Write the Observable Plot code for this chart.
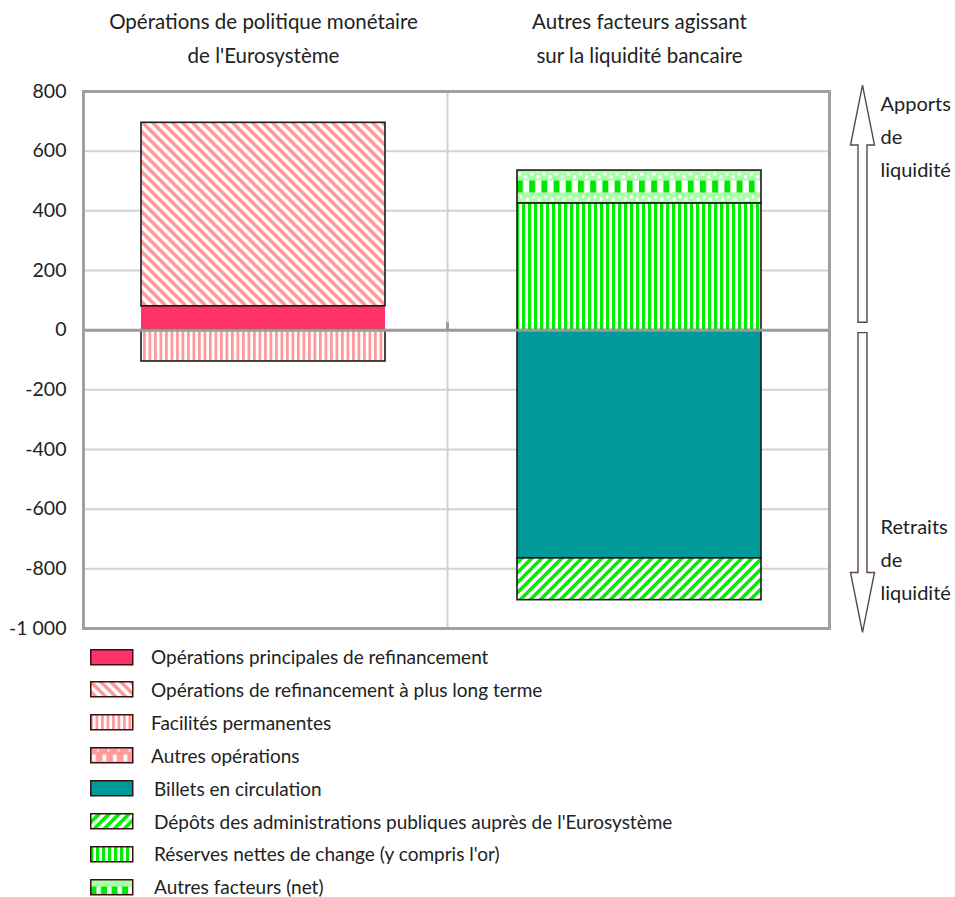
<!DOCTYPE html>
<html><head><meta charset="utf-8">
<script src="https://cdn.jsdelivr.net/npm/d3@7"></script>
<script src="https://cdn.jsdelivr.net/npm/@observablehq/plot@0.6"></script>
<style>
body{margin:0;background:#fff;font-family:Lato,"Open Sans",sans-serif;color:#222}
#chart{position:relative;width:955px;height:897px;overflow:hidden}
#legend{position:absolute;left:0;top:0;width:955px}
.row{position:absolute;left:0;height:22px;line-height:22px;display:flex;align-items:center;font-size:19px;white-space:nowrap}
.row svg{margin-left:90px}
</style></head>
<body>
<svg width="0" height="0" style="position:absolute">
<defs>
<pattern id="p-ltro" patternUnits="userSpaceOnUse" width="10" height="10">
<rect width="10" height="10" fill="#fff"/>
<path d="M-5,5 L5,15 M0,0 L10,10 M5,-5 L15,5" stroke="#ff9a9a" stroke-width="3.6"/>
</pattern>
<pattern id="p-fac" patternUnits="userSpaceOnUse" width="5.5" height="10">
<rect width="5.5" height="10" fill="#fff"/>
<rect width="2.8" height="10" fill="#ff9a9a"/>
</pattern>
<pattern id="p-autop" patternUnits="objectBoundingBox" patternContentUnits="objectBoundingBox" width="0.25" height="1">
<rect width="0.25" height="1" fill="#ff9a9a"/>
<rect x="0.03" y="0.45" width="0.09" height="0.45" fill="#fff"/>
<rect x="0.15" y="0.1" width="0.04" height="0.15" fill="#fff"/>
</pattern>
<pattern id="p-dep" patternUnits="userSpaceOnUse" width="10" height="10">
<rect width="10" height="10" fill="#fff"/>
<path d="M-5,5 L5,-5 M0,10 L10,0 M5,15 L15,5" stroke="#00f000" stroke-width="3.6"/>
</pattern>
<pattern id="p-res" patternUnits="userSpaceOnUse" width="6" height="10">
<rect width="6" height="10" fill="#fff"/>
<rect width="3.2" height="10" fill="#00ee00"/>
</pattern>
<pattern id="p-autf" patternUnits="objectBoundingBox" patternContentUnits="objectBoundingBox" width="0.05" height="1">
<rect width="0.05" height="1" fill="#a8ffa8"/>
<rect x="0.005" y="0.08" width="0.012" height="0.1" fill="#fff"/>
<rect x="0.03" y="0.16" width="0.012" height="0.1" fill="#fff"/>
<rect x="0" y="0.32" width="0.025" height="0.36" fill="#00e600"/>
<rect x="0.025" y="0.32" width="0.025" height="0.36" fill="#fff"/>
<rect x="0.012" y="0.76" width="0.012" height="0.1" fill="#fff"/>
<rect x="0.037" y="0.84" width="0.012" height="0.1" fill="#fff"/>
</pattern>
<pattern id="p-autf-leg" patternUnits="objectBoundingBox" patternContentUnits="objectBoundingBox" width="0.25" height="1">
<rect width="0.25" height="1" fill="#a8ffa8"/>
<rect x="0" y="0.45" width="0.14" height="0.55" fill="#00e600"/>
<rect x="0.14" y="0.5" width="0.08" height="0.4" fill="#fff"/>
</pattern>
</defs>
</svg>
<div id="chart"><div id="legend"></div></div>
<script>
// ---- data ----
const categories = ["Opérations de politique monétaire de l'Eurosystème", "Autres facteurs agissant sur la liquidité bancaire"];
const headers = ["Opérations de politique monétaire\nde l'Eurosystème", "Autres facteurs agissant\nsur la liquidité bancaire"];
const seriesNames = [
  "Opérations principales de refinancement",
  "Opérations de refinancement à plus long terme",
  "Facilités permanentes",
  "Autres opérations",
  "Billets en circulation",
  "Dépôts des administrations publiques auprès de l'Eurosystème",
  "Réserves nettes de change (y compris l'or)",
  "Autres facteurs (net)"
];
const seriesGroup = [0, 0, 0, 0, 1, 1, 1, 1];
const seriesValues = [80, 615, -105, 0, -765, -140, 425, 110];
const yTicks = [-1000, -800, -600, -400, -200, 0, 200, 400, 600, 800];
const sideLabels = ["Apports\nde\nliquidité", "Retraits\nde\nliquidité"];

// ---- styles ----
const seriesFills = ["#ff3366", "url(#p-ltro)", "url(#p-fac)", "url(#p-autop)", "#009999", "url(#p-dep)", "url(#p-res)", "url(#p-autf)"];
const legendFills = ["#ff3366", "url(#p-ltro)", "url(#p-fac)", "url(#p-autop)", "#009999", "url(#p-dep)", "url(#p-res)", "url(#p-autf-leg)"];

const table = seriesNames.map((s, i) => ({series: s, cat: categories[seriesGroup[i]], value: seriesValues[i]}));
const fmt = d => (d < 0 ? "-" : "") + String(Math.abs(d)).replace(/\B(?=(\d{3})+(?!\d))/g, " ");

const W = 955, H = 640;
const svg = Plot.plot({
  width: W, height: H,
  marginTop: 91, marginLeft: 83, marginRight: 126, marginBottom: 12,
  style: {fontFamily: "Lato, 'Open Sans', sans-serif", fontSize: "17px", color: "#222", background: "#fff"},
  x: {domain: categories, paddingInner: 0.351, paddingOuter: 0.166, align: 0.46, axis: null},
  y: {domain: [-1000, 800], axis: null},
  color: {domain: seriesNames, range: seriesFills},
  marks: [
    Plot.ruleY(yTicks, {stroke: "#d2d2d2", strokeWidth: 2}),
    Plot.ruleX([categories[1]], {stroke: "#d2d2d2", strokeWidth: 2, dx: -192}),
    Plot.barY(table, {x: "cat", y: "value", fill: "series", stroke: "#1a1a1a", strokeWidth: 1.6,
      strokeOpacity: d => d.series === seriesNames[0] ? 0 : 1}),
    Plot.ruleY([0], {stroke: "#9a9a9a", strokeWidth: 3}),
    Plot.ruleX([categories[1]], {y1: 0, y2: 25, stroke: "#9a9a9a", strokeWidth: 3, dx: -192}),
    Plot.frame({stroke: "#a0a0a0", strokeWidth: 3}),
    Plot.axisY(yTicks, {label: null, tickSize: 0, tickPadding: 17, tickFormat: fmt, fontSize: 19.5, fill: "#222"}),
    Plot.text(categories, {x: d => d, text: (d, i) => headers[i], frameAnchor: "top", lineAnchor: "middle", dy: -56, lineHeight: 1.65, fontSize: 20.5, fill: "#222"}),
    Plot.text([sideLabels[0]], {frameAnchor: "top-right", textAnchor: "start", lineAnchor: "middle", dx: 51, dy: 42, lineHeight: 1.65, fontSize: 20, fill: "#222"}),
    Plot.text([sideLabels[1]], {frameAnchor: "bottom-right", textAnchor: "start", lineAnchor: "middle", dx: 51, dy: -72, lineHeight: 1.65, fontSize: 20, fill: "#222"})
  ]
});
svg.style.position = "absolute"; svg.style.left = "0"; svg.style.top = "0";

// liquidity arrows on the right, positioned with the y scale
const ys = svg.scale("y");
const cx = 862.5, hw = 4.5, hh = 12, headLen = 60;
const upTip = ys.apply(820), upBase = ys.apply(25);
const dnTop = ys.apply(-10), dnTip = ys.apply(-1015);
const g = d3.select(svg).append("g").attr("fill", "#fff").attr("stroke", "#5a4848").attr("stroke-width", 1.4);
g.append("path").attr("d", `M${cx},${upTip} L${cx+hh},${upTip+headLen} L${cx+hw},${upTip+headLen} L${cx+hw},${upBase} L${cx-hw},${upBase} L${cx-hw},${upTip+headLen} L${cx-hh},${upTip+headLen} Z`);
g.append("path").attr("d", `M${cx},${dnTip} L${cx+hh},${dnTip-headLen} L${cx+hw},${dnTip-headLen} L${cx+hw},${dnTop} L${cx-hw},${dnTop} L${cx-hw},${dnTip-headLen} L${cx-hh},${dnTip-headLen} Z`);

document.getElementById("chart").prepend(svg);

// legend
const legend = document.getElementById("legend");
seriesNames.forEach((s, i) => {
  const row = document.createElement("div");
  row.className = "row";
  row.style.top = (646 + i * 32.9) + "px";
  row.innerHTML = `<svg width="44" height="17"><rect x="0.75" y="0.75" width="42" height="15" fill="${legendFills[i]}" stroke="#3a1010" stroke-width="1.5"/></svg><span style="margin-left:${i < 4 ? 17 : 20}px">${s}</span>`;
  legend.appendChild(row);
});
</script>
</body></html>
